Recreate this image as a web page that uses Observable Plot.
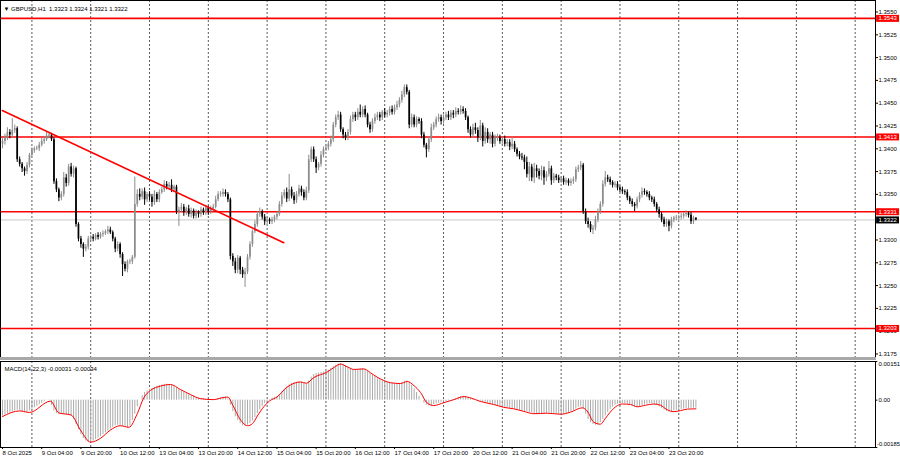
<!DOCTYPE html>
<html><head><meta charset="utf-8">
<script src="https://cdn.jsdelivr.net/npm/d3@7"></script>
<script src="https://cdn.jsdelivr.net/npm/@observablehq/plot@0.6"></script>
<style>
html,body{margin:0;padding:0;background:#fff;}
#wrap{position:relative;width:900px;height:460px;overflow:hidden;font-family:"Liberation Sans",Arial,sans-serif;}
#main{position:absolute;left:0;top:0;}
#sep{position:absolute;left:0;top:357px;width:876px;height:3px;background:#a8a8a8;}
#macd{position:absolute;left:0;top:360px;}
#warn{position:absolute;left:300px;top:200px;color:#f0f;font-size:14px;}
</style></head><body>
<div id="wrap"><div id="main"></div><div id="sep"></div><div id="macd"></div><div id="warn"></div></div>
<script>
// ---- data (prices in pips: 13408 = 1.3408), one entry per H1 bar from 8 Oct 2025 12:00
const closePips = [
13408,13412,13418,13415,13420,13422,13388,13383,13378,13375,13382,
13393,13398,13400,13400,13404,13408,13410,13414,13415,13410,
13364,13355,13346,13350,13368,13362,13380,13372,13378,13317,
13301,13295,13290,13292,13301,13303,13301,13305,13303,13306,
13307,13309,13311,13308,13301,13290,13295,13284,13273,13268,
13276,13276,13281,13339,13350,13347,13353,13344,13350,13347,
13341,13350,13344,13352,13355,13361,13358,13360,13355,13358,
13331,13333,13336,13330,13334,13328,13332,13326,13330,13328,
13333,13330,13335,13331,13334,13336,13344,13350,13350,13352,
13350,13344,13282,13276,13267,13280,13267,13262,13265,13281,
13295,13309,13317,13328,13331,13325,13320,13322,13320,13322,
13325,13328,13339,13348,13352,13345,13355,13348,13343,13350,
13356,13352,13346,13354,13388,13399,13388,13379,13383,13393,
13399,13401,13405,13410,13426,13434,13437,13421,13415,13412,
13418,13432,13437,13434,13440,13437,13443,13437,13426,13421,
13430,13434,13437,13434,13440,13437,13439,13443,13440,13445,
13448,13453,13459,13467,13462,13426,13434,13426,13432,13430,
13415,13404,13399,13410,13423,13426,13432,13434,13430,13434,
13437,13434,13439,13437,13441,13440,13443,13441,13434,13421,
13415,13423,13420,13412,13425,13408,13418,13410,13415,13405,
13412,13412,13408,13410,13405,13407,13402,13405,13399,13394,
13391,13390,13385,13372,13380,13368,13378,13375,13370,13376,
13368,13372,13378,13365,13370,13368,13365,13367,13363,13365,
13362,13364,13366,13377,13379,13382,13331,13320,13317,13311,
13313,13322,13331,13339,13361,13368,13366,13363,13360,13361,
13357,13355,13353,13352,13346,13342,13339,13337,13344,13349,
13353,13352,13350,13346,13344,13339,13333,13328,13322,13317,
13320,13315,13322,13324,13324,13325,13326,13328,13329,13327,
13320,13324,13322];
const openFirstPips = 13405;
// wick length above / below the candle body, pips
const hiExt = [
3,4,5,3,13,4,2,3,2,2,3,
2,3,2,3,3,4,3,4,3,2,
2,3,2,3,6,4,3,4,3,2,
2,3,2,3,3,2,3,2,3,2,
3,2,4,3,2,2,3,2,2,3,
2,3,2,30,5,6,3,4,2,3,
3,4,2,3,3,4,3,3,6,2,
2,3,4,3,2,4,3,2,3,2,
3,2,3,2,3,3,4,3,3,4,
3,2,2,3,4,3,2,3,4,3,
3,2,4,3,4,2,3,3,2,3,
2,3,3,4,3,5,17,3,4,3,
4,3,3,4,5,3,3,3,2,4,
3,3,3,4,3,3,4,3,2,3,
3,4,3,3,4,8,3,4,2,3,
3,4,3,3,2,4,3,3,4,3,
4,3,4,3,3,2,4,3,3,2,
3,3,2,3,4,3,3,4,3,3,
3,4,3,3,4,3,4,3,3,2,
3,4,5,3,6,3,5,4,3,3,
3,4,3,3,4,3,3,8,3,2,
3,4,3,6,5,3,6,4,3,5,
4,3,8,3,3,2,3,2,3,3,
2,3,3,3,3,4,2,3,4,3,
3,4,3,3,4,7,3,3,2,3,
3,2,3,2,3,2,3,2,3,3,
4,3,2,3,2,3,2,3,2,3,
3,2,3,2,3,2,3,2,3,2,
3,2,0];
const loExt = [
5,4,3,4,3,3,3,3,4,5,3,
3,2,3,2,3,2,3,2,3,2,
3,3,4,3,3,4,3,3,4,3,
3,4,9,3,3,2,3,2,3,2,
3,2,3,2,3,4,3,4,13,3,
4,3,3,2,3,4,3,6,3,4,
5,3,3,3,2,3,3,2,3,3,
3,16,3,4,3,3,4,3,3,4,
3,3,3,4,3,3,2,2,3,3,
3,3,4,5,4,4,5,4,14,3,
3,3,2,3,3,3,4,3,3,3,
3,3,2,3,3,4,3,3,4,3,
3,4,3,3,3,3,3,6,3,3,
3,2,3,3,3,3,3,3,4,3,
3,3,3,4,3,3,3,3,3,4,
3,3,3,4,3,3,3,3,3,3,
3,3,3,3,3,4,3,3,3,3,
4,3,9,3,3,3,3,3,4,3,
3,3,3,4,3,3,3,3,3,4,
3,3,4,5,3,6,3,4,5,4,
3,4,3,4,3,3,4,3,3,3,
3,3,8,4,8,4,6,7,4,5,
8,4,3,5,3,3,3,3,3,3,
3,3,3,3,3,3,3,3,4,3,
5,3,3,3,3,3,3,3,3,3,
3,3,3,3,3,3,3,6,3,3,
3,3,3,3,3,3,3,4,3,3,
3,6,3,3,3,3,3,3,3,3,
3,3,1];
// MACD(14,22,3) main (histogram), units of 0.00001
const macdMain = [
-62,-58,-54,-50,-46,-42,-39,-40,-45,-50,-48,
-42,-36,-30,-24,-18,-13,-6,-1,-2,-20,
-42,-52,-55,-56,-56,-57,-58,-62,-75,-95,
-115,-135,-150,-160,-166,-165,-160,-154,-148,-142,
-135,-128,-120,-113,-106,-100,-98,-100,-103,-107,
-108,-100,-80,-55,-25,0,18,30,36,42,
46,50,54,57,59,61,62,61,58,54,
48,42,36,30,25,21,17,13,10,7,
5,4,3,2,2,2,3,5,8,11,
12,5,-20,-45,-65,-80,-92,-100,-102,-98,
-92,-82,-68,-52,-38,-25,-14,-5,2,8,
11,15,22,32,42,52,60,65,68,70,
71,70,66,62,75,90,100,104,106,108,
110,113,117,124,131,137,142,143,140,135,
130,125,120,119,120,122,123,120,112,105,
98,92,86,80,76,72,69,67,66,65,
64,65,68,74,75,68,58,44,30,15,
0,-12,-20,-23,-22,-18,-14,-12,-10,-8,
-6,-3,0,3,6,10,14,15,13,10,
7,4,1,-2,-5,-8,-10,-12,-14,-17,
-20,-22,-25,-27,-28,-30,-32,-34,-36,-38,
-40,-42,-44,-46,-48,-50,-53,-55,-55,-54,
-52,-51,-51,-52,-53,-54,-55,-55,-54,-53,
-50,-46,-42,-35,-28,-26,-35,-55,-75,-88,
-95,-98,-96,-88,-76,-62,-48,-36,-27,-20,
-16,-14,-13,-14,-16,-19,-23,-26,-27,-25,
-22,-19,-16,-14,-14,-16,-20,-26,-33,-39,
-44,-47,-46,-43,-40,-38,-36,-35,-34,-33,
-32,-31,-31];
// signal line (bar position, value in 0.00001)
const sigBar = [0,7,11,19.6,23,28,32,36,40,44,48,51.6,55,57.7,60.4,64.5,68.6,72.7,76.7,80.8,86,90,92,94,97,100,102,104,106.7,109,112,116,119,121.6,124,127,132.5,135.2,138,140.7,143.4,147.5,150.2,152.9,155.6,158.4,162.4,165.2,167.9,170.6,173.3,176,180.1,184.2,188.3,191,195,200.5,204.6,208.7,212.8,216.9,222.3,227.8,231.8,236.6,238.6,241.3,244,246,248,251,253,256.3,259,262.4,265.8,268.6,271,274,276.7,279.5,283];
const sigVal = [-64,-42,-48,-4,-50,-58,-120,-164,-149,-117,-100,-106,-53,10,38,55,61,41,22,6,2,10,12,-20,-75,-100,-92,-62,-25,-3,12,50,66,71,66,88,110,127,141,130,120,122,107,90,77,68,65,73,57,30,-11,-21,-10,2,14,9,-5,-17,-28,-34,-44,-53,-51,-55,-47,-30,-42,-86,-94,-72,-47,-21,-15,-17,-26,-20,-15,-20,-36,-45,-41,-35,-34];

const levels = [1.3543, 1.3413, 1.3331, 1.3203];
const lastPrice = 1.3322;
const priceTicks = [1.3550,1.3525,1.3500,1.3475,1.3450,1.3425,1.3400,1.3375,1.3350,1.3300,1.3275,1.3250,1.3225,1.3200,1.3175];
const timeBars = [0,16,32,48,64,80,96,112,128,144,160,176,192,208,224,240,256,272];
const timeLabels = ["8 Oct 2025","9 Oct 04:00","9 Oct 20:00","10 Oct 12:00","13 Oct 04:00","13 Oct 20:00","14 Oct 12:00","15 Oct 04:00","15 Oct 20:00","16 Oct 12:00","17 Oct 04:00","17 Oct 20:00","20 Oct 12:00","21 Oct 04:00","21 Oct 20:00","22 Oct 12:00","23 Oct 04:00","23 Oct 20:00"];
const dayBars = [12,36,60,84,108,132,156,180,204,228,252,276,300,324,348];
const trendBars = [-0.1, 114.8];
const trendPrices = [1.3442, 1.3297];
const titleText = "▼ GBPUSD,H1  1.3323 1.3324 1.3321 1.3322";
const macdText = "MACD(14,22,3) -0.00031 -0.00034";
const macdScale = [0.00151, 0, -0.00185];

// ---- build
const N = closePips.length;
const bad = [hiExt, loExt, macdMain].some(a => a.length !== N) || sigBar.length !== sigVal.length;
if (bad) document.getElementById("warn").textContent = "len " + [N, hiExt.length, loExt.length, macdMain.length, sigBar.length, sigVal.length].join(",");

const bars = closePips.map((c, i) => {
  const o = i ? closePips[i - 1] : openFirstPips;
  const hi = Math.max(o, c) + hiExt[i], lo = Math.min(o, c) - loExt[i];
  const c2 = Math.abs(c - o) < 0.8 ? o + 0.8 : c;
  return {i, o: o / 1e4, c: c2 / 1e4, h: hi / 1e4, l: lo / 1e4, col: c >= o ? "#8c8c8c" : "#000000"};
});
const hist = macdMain.map((v, i) => ({i, v: v / 1e5}));
const sig = sigBar.map((b, k) => ({b, v: sigVal[k] / 1e5}));
const trend = trendBars.map((b, k) => ({b, p: trendPrices[k]}));
const levelLabels = levels.map(v => ({v, bg: "#ff0000"})).concat([{v: lastPrice, bg: "#000000"}]);

const xDomain = [-0.82, 356.3];
const boxX1 = 356.75, boxX2 = 366.1;
const FONT = "Liberation Sans, Arial, sans-serif";

const main = Plot.plot({
  width: 900, height: 357, marginLeft: 0, marginRight: 25, marginTop: 0, marginBottom: 0,
  x: {domain: xDomain, axis: null},
  y: {domain: [1.317116, 1.356261], axis: null},
  style: {background: "#fff", fontFamily: FONT, overflow: "visible"},
  marks: [
    Plot.ruleX(dayBars, {x: d => d, stroke: "#5a5a5a", strokeDasharray: "2,2", strokeWidth: 1}),
    Plot.ruleY([lastPrice], {y: d => d, stroke: "#c8c8c8", strokeWidth: 1}),
    Plot.ruleY(levels, {y: d => d, stroke: "#ff0000", strokeWidth: 1.6}),
    Plot.ruleX(bars, {x: "i", y1: "l", y2: "h", stroke: "col", strokeWidth: 1}),
    Plot.ruleX(bars, {x: "i", y1: "o", y2: "c", stroke: "col", strokeWidth: 1.7}),
    Plot.line(trend, {x: "b", y: "p", stroke: "#ff0000", strokeWidth: 1.6}),
    Plot.frame({stroke: "#000", strokeWidth: 1}),
    Plot.axisY(priceTicks, {anchor: "right", tickSize: 2, tickPadding: 1, fontSize: 6, fontFamily: FONT, tickFormat: d => d.toFixed(4)}),
    Plot.ruleY(levelLabels, {y: "v", x1: boxX1, x2: boxX2, stroke: "bg", strokeWidth: 7, clip: false}),
    Plot.text(levelLabels, {y: "v", frameAnchor: "right", dx: 3, textAnchor: "start", text: d => d.v.toFixed(4), fill: "#fff", fontSize: 6, fontFamily: FONT}),
    Plot.text([titleText], {text: d => d, frameAnchor: "top-left", dx: 3, dy: 6, textAnchor: "start", fontSize: 6, fontFamily: FONT, fill: "#000"})
  ]
});
document.getElementById("main").appendChild(main);

const macd = Plot.plot({
  width: 900, height: 100, marginLeft: 0, marginRight: 25, marginTop: 1, marginBottom: 13,
  x: {domain: xDomain, axis: null},
  y: {domain: [-0.00185, 0.00151], axis: null},
  style: {background: "#fff", fontFamily: FONT, overflow: "visible"},
  marks: [
    Plot.ruleX(dayBars, {x: d => d, stroke: "#5a5a5a", strokeDasharray: "2,2", strokeWidth: 1}),
    Plot.ruleX(hist, {x: "i", y1: 0, y2: "v", stroke: "#aaaaaa", strokeWidth: 1}),
    Plot.line(sig, {x: "b", y: "v", stroke: "#ff0000", strokeWidth: 1, curve: "monotone-x"}),
    Plot.frame({stroke: "#000", strokeWidth: 1}),
    Plot.axisX(timeBars, {anchor: "bottom", tickSize: 2, tickPadding: 1, fontSize: 6, fontFamily: FONT, textAnchor: "start", tickFormat: d => timeLabels[timeBars.indexOf(d)]}),
    Plot.ruleY(macdScale, {y: d => d, x1: xDomain[1], x2: boxX1 + 0.5, stroke: "#000", clip: false}),
    Plot.text([macdScale[0]], {y: d => d, text: d => d.toFixed(5), frameAnchor: "right", dx: 3, dy: 3, textAnchor: "start", fontSize: 6, fontFamily: FONT}),
    Plot.text([macdScale[1]], {y: d => d, text: d => d.toFixed(2), frameAnchor: "right", dx: 3, textAnchor: "start", fontSize: 6, fontFamily: FONT}),
    Plot.text([macdScale[2]], {y: d => d, text: d => d.toFixed(5), frameAnchor: "right", dx: 24.5, dy: -3, textAnchor: "end", fontSize: 5.8, fontFamily: FONT}),
    Plot.text([macdText], {text: d => d, frameAnchor: "top-left", dx: 4, dy: 5, textAnchor: "start", fontSize: 6, fontFamily: FONT, fill: "#000"})
  ]
});
document.getElementById("macd").appendChild(macd);
</script>
</body></html>
